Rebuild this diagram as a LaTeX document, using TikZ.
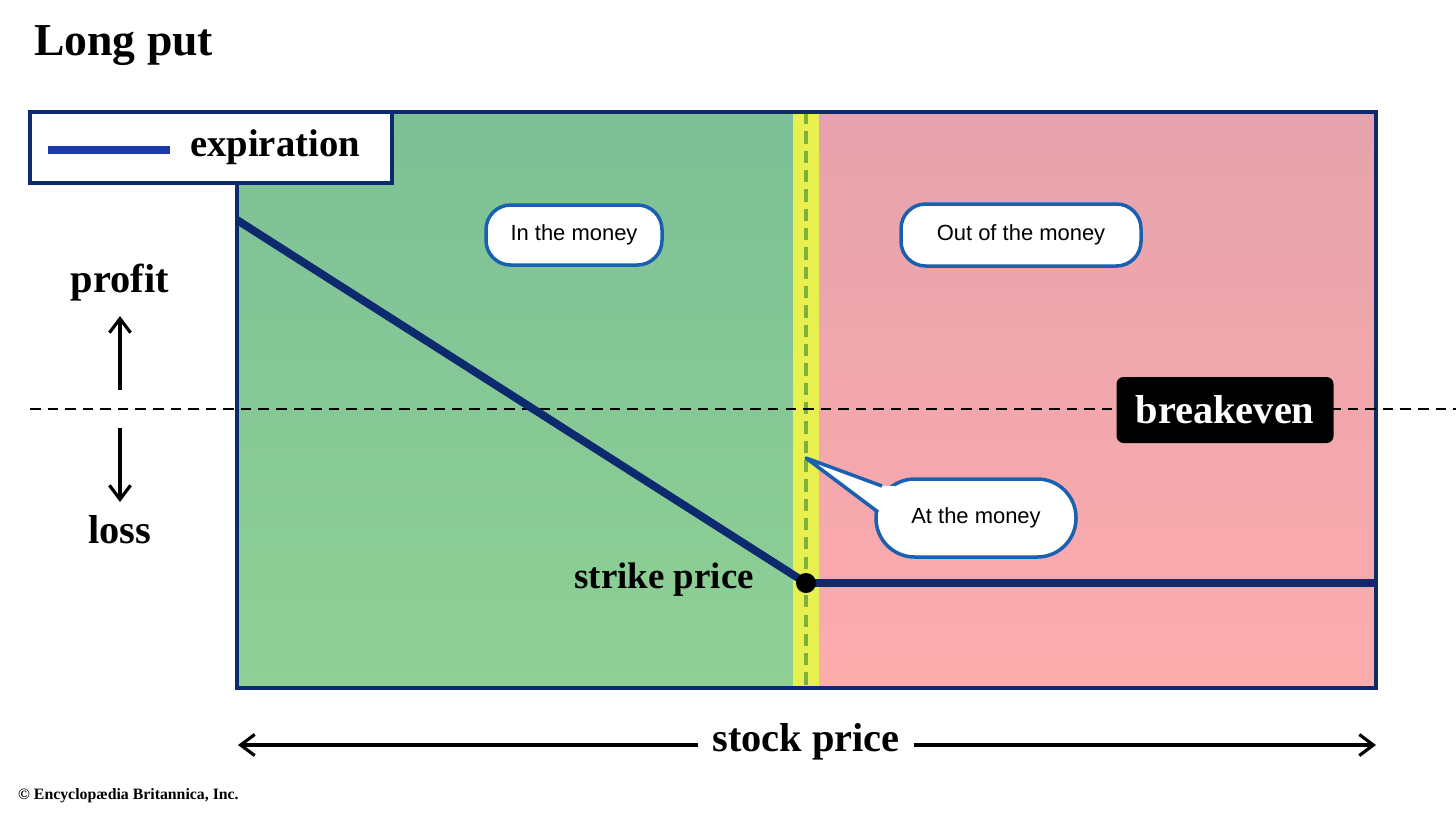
\documentclass[tikz,border=0pt]{standalone}
\usepackage{fontspec}
\setmainfont{Liberation Serif}
\newfontfamily\bubfont{Liberation Sans}
\usetikzlibrary{arrows.meta}
\definecolor{navy}{HTML}{0D2A6E}
\definecolor{legblue}{HTML}{1A3AAA}
\definecolor{bubblue}{HTML}{1A60B0}
\definecolor{gtop}{HTML}{7DC096}
\definecolor{gbot}{HTML}{8FD095}
\definecolor{ptop}{HTML}{E6A3AD}
\definecolor{pbot}{HTML}{FDABAD}
\definecolor{ylw}{HTML}{E8F050}
\tikzset{
  bubble/.style={draw=bubblue,line width=2pt,fill=white,rounded corners=14pt,font=\bubfont\fontsize{12.5}{14}\selectfont,inner sep=0pt},
  lbl/.style={font=\bfseries\fontsize{23}{26}\selectfont},
  arr/.style={-{Straight Barb[length=8pt,width=12pt]},line width=1.8pt}
}
\begin{document}
\begin{tikzpicture}[x=0.02cm,y=-0.02cm]
\useasboundingbox (0,0) rectangle (1456,819);
\node[anchor=west,font=\bfseries\fontsize{26}{30}\selectfont] (title) at (28,46) {Long put};
% regions
\shade[top color=gtop,bottom color=gbot] (237,112) rectangle (793,688);
\fill[ylw] (793,112) rectangle (819,688);
\shade[top color=ptop,bottom color=pbot] (819,112) rectangle (1376,688);
\draw[draw=olive!50!green!80!white,line width=2pt,dash pattern=on 7pt off 4pt] (806,112) -- (806,688);
\draw[navy,line width=2.5pt] (237,112) rectangle (1376,688);
% breakeven line
\draw[line width=1.6pt,dash pattern=on 6pt off 4pt] (30,409) -- (1456,409);
\node[fill=black,text=white,rounded corners=4pt,minimum width=217*0.02cm,minimum height=66*0.02cm,lbl,inner sep=0pt] (be) at (1225,410) {breakeven};
% payoff
\coordinate (p0) at (237,220);
\coordinate (k) at (806,583);
\coordinate (p2) at (1376,583);
\draw[navy,line width=4.5pt] (p0) -- (k) -- (p2);
\fill[black] (k) circle (10);
\node[anchor=east,font=\bfseries\fontsize{21}{24}\selectfont] (sp) at (760,580) {strike price};
% legend
\node[draw=navy,line width=2pt,fill=white,minimum width=362*0.02cm,minimum height=71*0.02cm,inner sep=0pt] (leg) at (211,147.5) {};
\draw[legblue,line width=4pt] (48,150) -- (170,150);
\node[anchor=west,font=\bfseries\fontsize{22}{24}\selectfont] (legt) at (184,147) {expiration};
% bubbles
\node[bubble,minimum width=176*0.02cm,minimum height=60*0.02cm] (itm) at (574,235) {In the money};
\node[bubble,minimum width=240*0.02cm,minimum height=62*0.02cm] (otm) at (1021,235) {Out of the money};
\node[bubble,minimum width=200*0.02cm,minimum height=78*0.02cm,rounded corners=22pt] (atm) at (976,518) {At the money};
\coordinate (tip) at (806,458);
\fill[white] (882,486) -- (tip) -- (880,512) -- (895,512) -- (895,486) -- cycle;
\draw[bubblue,line width=2pt,line join=round] (882,486) -- (tip) -- (878,512);
% profit/loss
\node[lbl] (profit) at (120,283) {profit};
\node[lbl] (loss) at (120,530) {loss};
\coordinate (pu1) at (120,390); \coordinate (pu2) at (120,316);
\coordinate (pd1) at (120,428); \coordinate (pd2) at (120,502);
\draw[arr] (pu1) -- (pu2);
\draw[arr] (pd1) -- (pd2);
% stock price
\node[lbl] (stock) at (806,742) {stock price};
\coordinate (sl) at (238,745); \coordinate (sr) at (1376,745);
\draw[arr] (stock.west) ++(-8,3) coordinate (a1) -- (sl);
\draw[arr] (stock.east) ++(8,3) coordinate (a2) -- (sr);
\node[anchor=west,font=\bfseries\fontsize{9}{10}\selectfont] (copy) at (12,796) {© Encyclopædia Britannica, Inc.};
\end{tikzpicture}
\end{document}
